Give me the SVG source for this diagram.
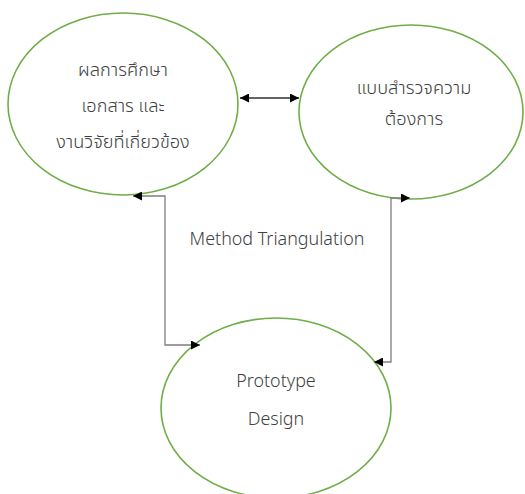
<svg xmlns="http://www.w3.org/2000/svg" width="525" height="494" viewBox="0 0 525 494">
  <style>
    .node { fill: #ffffff; stroke: #70ad47; stroke-width: 1.6; }
    .label { font-family: "Noto Sans", "Noto Sans Thai", "DejaVu Sans", sans-serif; font-size: 17.9px; font-weight: 300; fill: #404040; text-anchor: middle; }
    .thai { font-size: 18.2px; }
    .link { fill: none; stroke: #7f7f7f; stroke-width: 1.3; }
    .link.dark { stroke: #303030; }
  </style>
  <defs>
    <marker id="arrow" viewBox="0 0 10 10" refX="10" refY="5" markerWidth="9" markerHeight="9" markerUnits="userSpaceOnUse" orient="auto-start-reverse">
      <path d="M0,0 L10,5 L0,10 Z" fill="#000000"/>
    </marker>
  </defs>
  <rect width="525" height="494" fill="#ffffff"/>

  <g id="node-literature">
    <ellipse class="node" cx="123" cy="104" rx="115" ry="91"/>
    <text class="label thai" x="123" y="76">ผลการศึกษา</text>
    <text class="label thai" x="123" y="112">เอกสาร และ</text>
    <text class="label thai" x="123" y="148">งานวิจัยที่เกี่ยวข้อง</text>
  </g>

  <g id="node-survey">
    <ellipse class="node" cx="411" cy="112" rx="112" ry="87"/>
    <text class="label thai" x="414" y="94">แบบสำรวจความ</text>
    <text class="label thai" x="414" y="125">ต้องการ</text>
  </g>

  <g id="node-prototype">
    <ellipse class="node" cx="276" cy="408" rx="115" ry="90"/>
    <text class="label" x="276" y="387">Prototype</text>
    <text class="label" x="276" y="425">Design</text>
  </g>

  <g id="connectors">
    <line class="link dark" x1="240" y1="98" x2="299" y2="98" marker-start="url(#arrow)" marker-end="url(#arrow)"/>
    <polyline class="link" points="200,345 165,345 165,196 133,196" marker-start="url(#arrow)" marker-end="url(#arrow)"/>
    <polyline class="link" points="410,198 391,198 391,362 374,362" marker-start="url(#arrow)" marker-end="url(#arrow)"/>
  </g>

  <text class="label" x="277" y="245">Method Triangulation</text>
</svg>
